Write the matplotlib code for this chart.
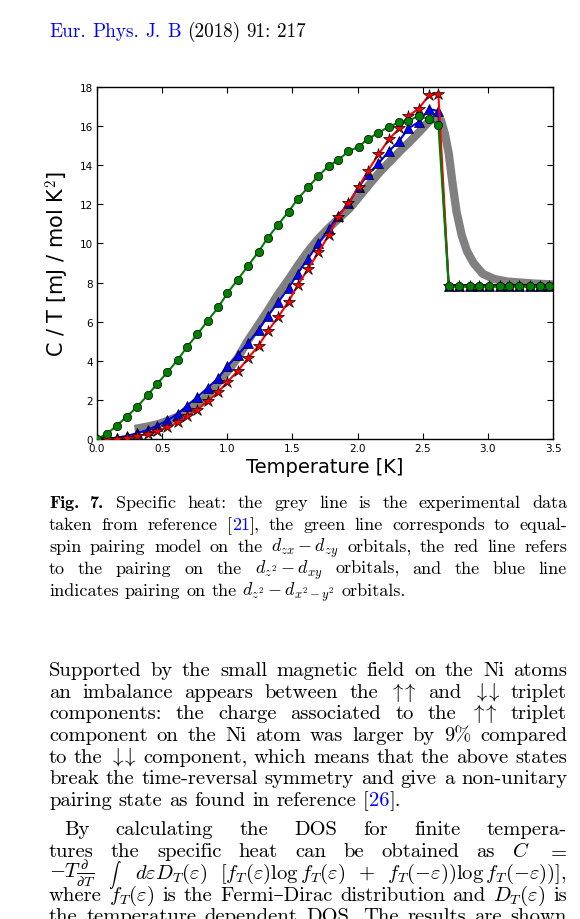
import re
import matplotlib
matplotlib.use("Agg")
import matplotlib.pyplot as plt

plt.rcParams['mathtext.fontset'] = 'cm'
plt.rcParams['axes.unicode_minus'] = False

# temperature grid of the model curves [K]
T = [0.00, 0.08, 0.15, 0.23, 0.31, 0.39, 0.46, 0.54, 0.62, 0.69,
     0.77, 0.85, 0.93, 1.00, 1.08, 1.16, 1.24, 1.31, 1.39, 1.47,
     1.54, 1.62, 1.70, 1.78, 1.85, 1.93, 2.01, 2.08, 2.16, 2.24,
     2.32, 2.39, 2.47, 2.55, 2.62, 2.70, 2.78, 2.86, 2.93, 3.01,
     3.09, 3.16, 3.24, 3.32, 3.40, 3.47]

# d_zx - d_zy (green)
green = [0.00, 0.28, 0.68, 1.15, 1.66, 2.25, 2.81, 3.41, 4.05, 4.70,
         5.35, 6.05, 6.73, 7.45, 8.15, 8.86, 9.58, 10.28, 10.96, 11.62,
         12.27, 12.87, 13.46, 13.97, 14.26, 14.71, 14.95, 15.35, 15.65, 15.98,
         16.19, 16.28, 16.52, 16.35, 16.08, 7.80, 7.80, 7.80, 7.80, 7.80,
         7.80, 7.80, 7.80, 7.80, 7.80, 7.80]

# d_z2 - d_xy (red)
red = [0.00, 0.00, 0.02, 0.06, 0.14, 0.26, 0.40, 0.60, 0.85, 1.16,
       1.50, 1.93, 2.40, 2.91, 3.48, 4.13, 4.77, 5.51, 6.23, 7.03,
       7.85, 8.71, 9.54, 10.45, 11.33, 12.08, 12.90, 13.72, 14.55, 15.32,
       15.88, 16.52, 16.90, 17.59, 17.64, 7.80, 7.80, 7.80, 7.80, 7.80,
       7.80, 7.80, 7.80, 7.80, 7.80, 7.80]

# d_z2 - d_x2-y2 (blue)
blue = [0.00, 0.02, 0.07, 0.16, 0.30, 0.47, 0.68, 0.95, 1.29, 1.70,
        2.14, 2.62, 3.12, 3.72, 4.29, 4.91, 5.59, 6.28, 6.99, 7.71,
        8.46, 9.23, 10.00, 10.74, 11.42, 12.05, 12.88, 13.55, 14.09, 14.71,
        15.25, 15.88, 16.22, 16.87, 16.77, 7.80, 7.80, 7.80, 7.80, 7.80,
        7.80, 7.80, 7.80, 7.80, 7.80, 7.80]

# experiment (grey)
expT = [0.32, 0.40, 0.48, 0.55, 0.62, 0.70, 0.78, 0.85, 0.92, 1.00,
        1.08, 1.15, 1.23, 1.31, 1.39, 1.48, 1.55, 1.62, 1.70, 1.78,
        1.86, 1.94, 2.02, 2.10, 2.17, 2.25, 2.33, 2.40, 2.48, 2.55,
        2.60, 2.64, 2.67, 2.70, 2.73, 2.76, 2.80, 2.84, 2.89, 2.96,
        3.05, 3.15, 3.25, 3.35, 3.50]
expC = [0.55, 0.65, 0.78, 0.95, 1.15, 1.45, 1.80, 2.25, 2.80, 3.45,
        4.15, 4.95, 5.75, 6.55, 7.40, 8.25, 8.95, 9.60, 10.25, 10.80,
        11.30, 11.80, 12.45, 13.10, 13.65, 14.20, 14.75, 15.20, 15.75, 16.25,
        16.45, 16.30, 15.60, 14.60, 13.00, 11.60, 10.40, 9.60, 9.00, 8.45,
        8.18, 8.05, 8.00, 7.95, 7.90]

xticks = [0.0, 0.5, 1.0, 1.5, 2.0, 2.5, 3.0, 3.5]
yticks = [0, 2, 4, 6, 8, 10, 12, 14, 16, 18]

W, H = 580, 920
fig = plt.figure(figsize=(W / 100, H / 100), dpi=100)
rend = fig.canvas.get_renderer()

# ---- grafik ----
ax = fig.add_axes([97 / W, 1 - 440 / H, 456 / W, 352 / H])
ax.plot(expT, expC, color='#808080', lw=6, zorder=1)
ax.plot(T, blue, '-^', color='blue', mec='black', mew=0.5, ms=7, lw=1.5, zorder=2)
ax.plot(T, red, '-*', color='red', mec='black', mew=0.5, ms=9, lw=1.5, zorder=3)
ax.plot(T, green, '-o', color='green', mec='black', mew=0.5, ms=6, lw=1.5, zorder=4)

ax.set_xlim(0, 3.5)
ax.set_ylim(0, 18)
ax.set_xticks(xticks)
ax.set_xticklabels(['%.1f' % v for v in xticks])
ax.set_yticks(yticks)
ax.tick_params(direction='in', length=4, width=0.8, labelsize=7.5, pad=3,
               top=True, right=True)
for s in ax.spines.values():
    s.set_linewidth(1.0)
ax.set_xlabel('Temperature [K]', fontsize=14)
ax.set_ylabel('C / T [mJ / mol K$^2$]', fontsize=15)
ax.xaxis.set_label_coords(0.5, -0.05)
ax.yaxis.set_label_coords(-0.055, 0.5)

# ---- sayfa metni ----
SERIF = ['cmr10', 'DejaVu Serif']
BOLD = ['cmb10', 'DejaVu Serif']
TOK = re.compile(r'(?:\$[^$]*\$|[^\s$])+')
UU = r'$\uparrow\!\!\uparrow$'
DD = r'$\downarrow\!\!\downarrow$'


def satir(line, y, x0=49, x1=567, size=14.8, justify=True, bold=0):
    words = TOK.findall(line)
    objs, widths = [], []
    for n, w in enumerate(words):
        fam = BOLD if n < bold else SERIF
        parts, tot = [], 0
        for k, p in enumerate(w.split('#')):
            if not p:
                continue
            fs = size
            if p.startswith('~'):   # küçük integral işareti
                p, fs = p[1:], size * 0.6
            t = fig.text(0, 1 - y / H, p, fontsize=fs, family=fam, va='baseline',
                         color='#0000ff' if k % 2 else 'black')
            pw = t.get_window_extent(rend).width
            parts.append((t, pw))
            tot += pw
        objs.append(parts)
        widths.append(tot)
    gap = size * 100 / 72 * 0.333
    if justify and len(words) > 1:
        gap = (x1 - x0 - sum(widths)) / (len(words) - 1)
    x = x0
    for parts in objs:
        for t, pw in parts:
            t.set_x(x / W)
            x += pw
        x += gap


satir('#Eur.# #Phys.# #J.# #B# (2018) 91: 217', 36.7, size=13.8, justify=False)

cap = [
    'Fig. 7. Specific heat: the grey line is the experimental data',
    'taken from reference [#21#], the green line corresponds to equal-',
    r'spin pairing model on the $d_{zx}-d_{zy}$ orbitals, the red line refers',
    r'to the pairing on the $d_{z^2}-d_{xy}$ orbitals, and the blue line',
    r'indicates pairing on the $d_{z^2}-d_{x^2-y^2}$ orbitals.',
]
for i, line in enumerate(cap):
    satir(line, 508.3 + 21.9 * i, size=13, justify=(i < 4), bold=(2 if i == 0 else 0))

body = [
    'Supported by the small magnetic field on the Ni atoms',
    'an imbalance appears between the ' + UU + ' and ' + DD + ' triplet',
    'components: the charge associated to the ' + UU + ' triplet',
    'component on the Ni atom was larger by 9% compared',
    'to the ' + DD + ' component, which means that the above states',
    'break the time-reversal symmetry and give a non-unitary',
    'pairing state as found in reference [#26#].',
]
for i, line in enumerate(body):
    satir(line, 676 + 21.67 * i, justify=(i < 6))

satir('By calculating the DOS for finite tempera-', 835.3, x0=64)
satir(r'tures the specific heat can be obtained as $C$ $=$', 857)
satir(r'$-T\frac{\partial}{\partial T}$ ~$\int$ $d\varepsilon D_T(\varepsilon)$ '
      r'$[f_T(\varepsilon)\log f_T(\varepsilon)$ $+$ '
      r'$f_T(-\varepsilon))\log f_T(-\varepsilon))],$', 879)
satir(r'where $f_T(\varepsilon)$ is the Fermi–Dirac distribution and $D_T(\varepsilon)$ is', 900.7)
satir('the temperature dependent DOS. The results are shown', 921.7)

fig.savefig('out.png', dpi=100)
